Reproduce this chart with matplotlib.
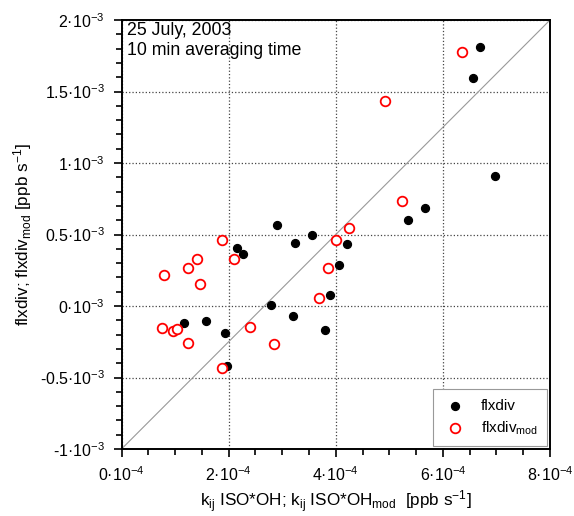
import matplotlib
matplotlib.use("Agg")
import matplotlib.pyplot as plt
from matplotlib.ticker import MultipleLocator, FixedLocator

plt.rcParams['font.family'] = ['Liberation Sans', 'DejaVu Sans']
plt.rcParams['mathtext.default'] = 'regular'

# flxdiv (black, filled)
obs_x = [2.902e-4, 3.550e-4, 3.246e-4, 2.156e-4, 2.268e-4, 4.054e-4, 3.886e-4,
         2.790e-4, 3.209e-4, 1.174e-4, 1.585e-4, 1.932e-4, 3.797e-4, 1.977e-4,
         5.669e-4, 5.346e-4, 4.209e-4, 6.691e-4, 6.561e-4, 6.979e-4]
obs_y = [0.569e-3, 0.499e-3, 0.443e-3, 0.403e-3, 0.364e-3, 0.286e-3, 0.080e-3,
         0.007e-3, -0.070e-3, -0.116e-3, -0.107e-3, -0.191e-3, -0.168e-3, -0.422e-3,
         0.687e-3, 0.601e-3, 0.431e-3, 1.814e-3, 1.597e-3, 0.912e-3]

# flxdiv_mod (red, open)
mod_x = [1.883e-4, 1.404e-4, 1.236e-4, 2.100e-4, 0.793e-4, 1.465e-4, 4.002e-4,
         3.862e-4, 3.686e-4, 2.398e-4, 0.750e-4, 0.961e-4, 1.036e-4, 1.249e-4,
         2.841e-4, 1.883e-4, 4.246e-4, 5.234e-4, 6.356e-4, 4.926e-4]
mod_y = [0.464e-3, 0.327e-3, 0.269e-3, 0.327e-3, 0.217e-3, 0.157e-3, 0.463e-3,
         0.266e-3, 0.059e-3, -0.149e-3, -0.156e-3, -0.172e-3, -0.161e-3, -0.259e-3,
         -0.263e-3, -0.434e-3, 0.545e-3, 0.736e-3, 1.779e-3, 1.434e-3]

x_ticks = [0, 2e-4, 4e-4, 6e-4, 8e-4]
x_labels = ['0·10$^{-4}$', '2·10$^{-4}$', '4·10$^{-4}$', '6·10$^{-4}$', '8·10$^{-4}$']
y_ticks = [-1e-3, -0.5e-3, 0, 0.5e-3, 1e-3, 1.5e-3, 2e-3]
y_labels = ['-1·10$^{-3}$', '-0.5·10$^{-3}$', '0·10$^{-3}$', '0.5·10$^{-3}$',
            '1·10$^{-3}$', '1.5·10$^{-3}$', '2·10$^{-3}$']

fig = plt.figure(figsize=(5.74, 5.16), dpi=100)
ax = fig.add_axes([0.2117, 0.1298, 0.7465, 0.8314])

ax.set_xlim(0, 8e-4)
ax.set_ylim(-1e-3, 2e-3)

# diagonal of the box
ax.plot([0, 1], [0, 1], transform=ax.transAxes, color='#999999', lw=0.8, zorder=1)

ax.scatter(obs_x, obs_y, s=32, color='black', zorder=3, label='flxdiv')
ax.scatter(mod_x, mod_y, s=48, facecolors='white', edgecolors='red',
           linewidths=1.3, zorder=3, label='flxdiv$_{mod}$')

ax.xaxis.set_major_locator(FixedLocator(x_ticks))
ax.set_xticklabels(x_labels)
ax.yaxis.set_major_locator(FixedLocator(y_ticks))
ax.set_yticklabels(y_labels)
ax.xaxis.set_minor_locator(MultipleLocator(0.5e-4))
ax.yaxis.set_minor_locator(MultipleLocator(0.1e-3))
ax.tick_params(which='both', direction='out', top=False, right=False,
               labelsize=11.5, width=1.2, pad=6)
ax.tick_params(which='major', length=6)
ax.tick_params(which='minor', length=4)

ax.grid(True, which='major', linestyle=':', color='#444444', lw=0.9)
ax.set_axisbelow(True)
for sp in ax.spines.values():
    sp.set_linewidth(1.4)

ax.set_xlabel('k$_{ij}$ ISO*OH; k$_{ij}$ ISO*OH$_{mod}$  [ppb s$^{-1}$]',
              fontsize=12.3, labelpad=3)
ax.set_ylabel('flxdiv; flxdiv$_{mod}$ [ppb s$^{-1}$]', fontsize=12.3)

ax.text(0.012, 0.995, '25 July, 2003\n10 min averaging time', transform=ax.transAxes,
        ha='left', va='top', fontsize=12.8, linespacing=1.2)

leg = ax.legend(loc='lower right', fontsize=11, fancybox=False, framealpha=1,
                edgecolor='#999999', borderpad=0.6, handletextpad=0.9,
                handlelength=1.6, labelspacing=0.45, borderaxespad=0,
                bbox_to_anchor=(0.993, 0.007))
leg.get_frame().set_linewidth(0.8)

fig.savefig('out.png', dpi=100)
